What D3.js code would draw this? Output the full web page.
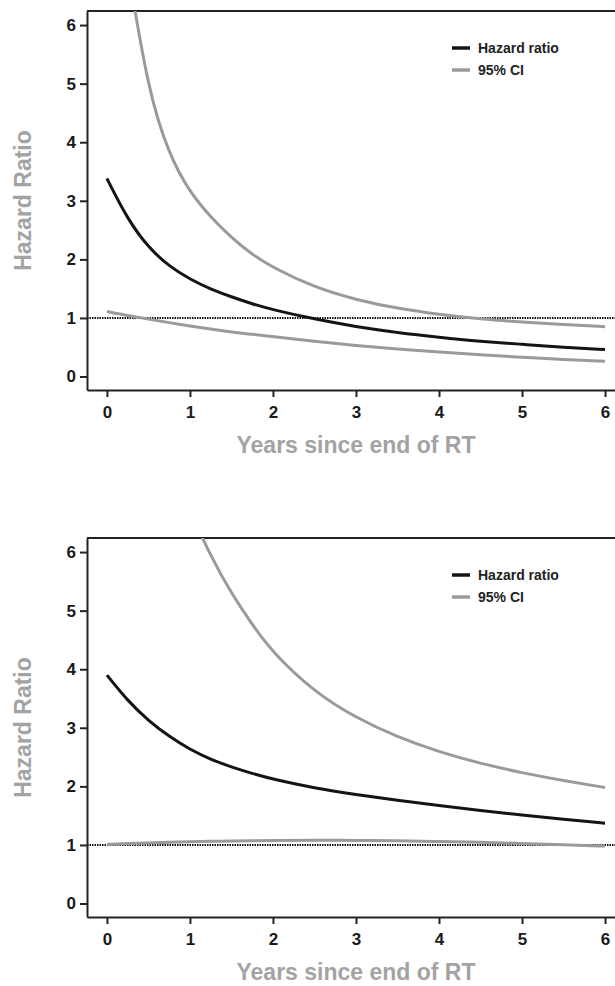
<!DOCTYPE html>
<html>
<head>
<meta charset="utf-8">
<script src="https://cdn.jsdelivr.net/npm/d3@7"></script>
<style>
  body { margin: 0; background: #fff; }
  svg { display: block; }
</style>
</head>
<body>
<svg width="615" height="986"></svg>
<script>
// years since end of RT, shared by every series
var years = [0, 0.25, 0.5, 0.75, 1, 1.25, 1.5, 1.75, 2, 2.5, 3, 3.5, 4, 4.5, 5, 5.5, 6];
var xTicks = [0, 1, 2, 3, 4, 5, 6];
var yTicks = [0, 1, 2, 3, 4, 5, 6];

// top panel (null = off the chart, not drawn)
var hrTop    = [3.38, 2.68, 2.2, 1.88, 1.66, 1.49, 1.36, 1.24, 1.14, 0.98, 0.85, 0.75, 0.67, 0.6, 0.55, 0.5, 0.46];
var upperTop = [null, 7.0, 4.85, 3.78, 3.14, 2.72, 2.37, 2.08, 1.86, 1.52, 1.31, 1.16, 1.06, 0.98, 0.93, 0.89, 0.85];
var lowerTop = [1.11, 1.04, 0.98, 0.92, 0.86, 0.81, 0.76, 0.72, 0.68, 0.6, 0.53, 0.47, 0.42, 0.37, 0.33, 0.29, 0.26];

// bottom panel
var hrBot    = [3.9, 3.46, 3.12, 2.85, 2.63, 2.46, 2.33, 2.22, 2.12, 1.97, 1.86, 1.76, 1.67, 1.59, 1.51, 1.44, 1.37];
var upperBot = [null, 9.9, 8.7, 7.6, 6.7, 5.93, 5.29, 4.76, 4.28, 3.61, 3.17, 2.84, 2.59, 2.39, 2.23, 2.1, 1.98];
var lowerBot = [1.01, 1.025, 1.035, 1.045, 1.055, 1.062, 1.068, 1.073, 1.077, 1.08, 1.078, 1.07, 1.06, 1.045, 1.025, 1.005, 0.98];

var legendLabels = ["Hazard ratio", "95% CI"];

var BLACK = "#141414", GREY = "#9a9a9a", TITLE = "#a3a3a3";
var FONT = "Liberation Sans, Arial, sans-serif";
var svg = d3.select("svg");

var drawPanel = function(id, top, bottom, hr, upper, lower) {
    var left = 87, right = 615;
    var x = d3.scaleLinear().domain([-0.24, 6.12]).range([left, right]);
    var y = d3.scaleLinear().domain([-0.23, 6.24]).range([bottom, top]);

    var g = svg.append("g");

    g.append("clipPath").attr("id", "clip" + id)
      .append("rect")
        .attr("x", left).attr("y", top)
        .attr("width", right - left).attr("height", bottom - top);

    // frame top line
    g.append("line")
        .attr("x1", left).attr("x2", right)
        .attr("y1", top).attr("y2", top)
        .attr("stroke", "#222").attr("stroke-width", 2);

    // reference line at HR = 1
    g.append("line")
        .attr("x1", left).attr("x2", right)
        .attr("y1", y(1)).attr("y2", y(1))
        .attr("stroke", "#111").attr("stroke-width", 2)
        .attr("stroke-dasharray", "1.5,1");

    var line = function(vals) {
        var pts = vals.map(function(v, i) { return [years[i], v]; })
            .filter(function(p) { return p[1] !== null; });
        return d3.line()
            .x(function(p) { return x(p[0]); })
            .y(function(p) { return y(p[1]); })
            .curve(d3.curveBasis)(pts);
    };

    var curves = g.append("g").attr("clip-path", "url(#clip" + id + ")");
    [[upper, GREY], [lower, GREY], [hr, BLACK]].forEach(function(s) {
        curves.append("path")
            .attr("d", line(s[0]))
            .attr("fill", "none")
            .attr("stroke", s[1])
            .attr("stroke-width", 3);
    });

    var yAxis = g.append("g")
        .attr("transform", "translate(" + left + ",0)")
        .call(d3.axisLeft(y).tickValues(yTicks).tickFormat(d3.format("d"))
            .tickSize(7).tickSizeOuter(0).tickPadding(4));

    var xAxis = g.append("g")
        .attr("transform", "translate(0," + bottom + ")")
        .call(d3.axisBottom(x).tickValues(xTicks).tickFormat(d3.format("d"))
            .tickSize(7).tickSizeOuter(0).tickPadding(9));

    [yAxis, xAxis].forEach(function(a) {
        a.select(".domain").attr("stroke", "#222").attr("stroke-width", 2);
        a.selectAll(".tick line").attr("stroke", "#222").attr("stroke-width", 2);
        a.selectAll(".tick text")
            .attr("fill", "#1a1a1a")
            .style("font-family", FONT)
            .style("font-weight", "bold")
            .style("font-size", "17px");
    });

    // axis titles
    g.append("text")
        .attr("x", 356).attr("y", bottom + 63)
        .attr("text-anchor", "middle")
        .attr("fill", TITLE)
        .style("font-family", FONT)
        .style("font-weight", "bold")
        .style("font-size", "23px")
        .text("Years since end of RT");

    g.append("text")
        .attr("transform", "translate(31," + ((top + bottom) / 2) + ") rotate(-90)")
        .attr("text-anchor", "middle")
        .attr("fill", TITLE)
        .style("font-family", FONT)
        .style("font-weight", "bold")
        .style("font-size", "23px")
        .text("Hazard Ratio");

    // legend
    var leg = g.append("g").attr("transform", "translate(452," + (top + 37) + ")");
    legendLabels.forEach(function(lab, i) {
        leg.append("line")
            .attr("x1", 0).attr("x2", 18)
            .attr("y1", i * 22).attr("y2", i * 22)
            .attr("stroke", i === 0 ? BLACK : GREY)
            .attr("stroke-width", 3.5);
        leg.append("text")
            .attr("x", 26).attr("y", i * 22)
            .attr("dy", "0.35em")
            .attr("fill", "#222")
            .style("font-family", "Liberation Sans Narrow, " + FONT)
            .style("font-weight", "bold")
            .style("font-size", "14px")
            .text(lab);
    });
};

drawPanel("A", 11, 390, hrTop, upperTop, lowerTop);
drawPanel("B", 538, 917, hrBot, upperBot, lowerBot);
</script>
</body>
</html>
